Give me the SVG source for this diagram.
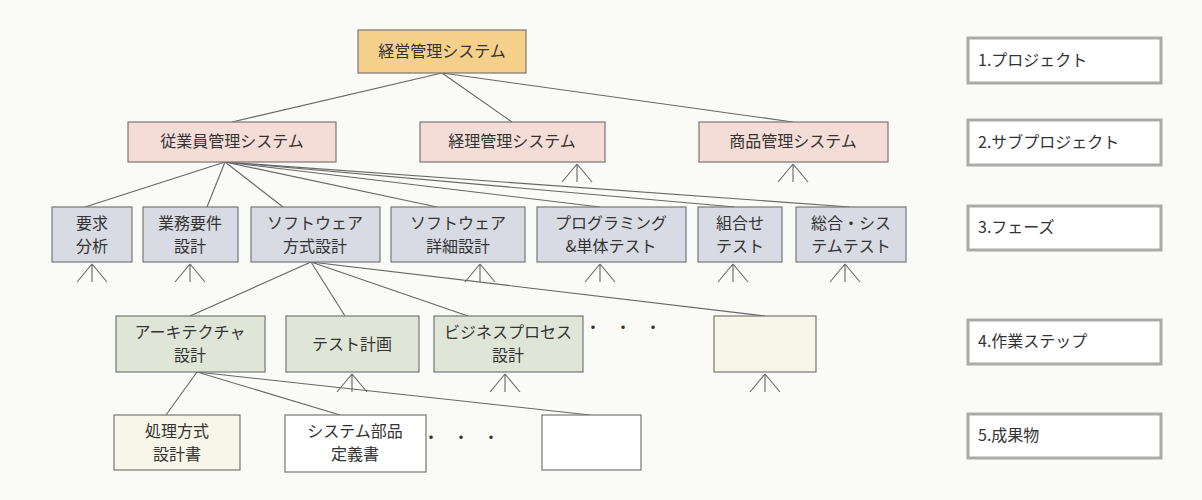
<svg xmlns="http://www.w3.org/2000/svg" width="1202" height="500" viewBox="0 0 1202 500">
<style>
text{font-family:"Noto Sans CJK JP","Noto Sans",sans-serif;font-size:16px;fill:#333;text-anchor:middle}
.t2{font-size:15px}
.b{stroke:#777;stroke-width:1.2}
.p{fill:#f5d08a}.s{fill:#f3ddd6}.f{fill:#d9dbe4}.w{fill:#dfe6d8}.d{fill:#f7f6e8}.e{fill:#fff}
.c line{stroke:#666;stroke-width:1.1;fill:none}
.l rect{fill:#fff;stroke:#aaa;stroke-width:3}
.l text{text-anchor:start}
</style>
<defs><path id="m" d="M0 0V18M0 0L-15 18M0 0L15 18" stroke="#666" stroke-width="1.1" fill="none"/></defs>
<rect width="1202" height="500" fill="#fafaf7"/>
<g class="c">
<line x1="442" y1="73" x2="232" y2="122"/><line x1="442" y1="73" x2="512" y2="122"/><line x1="442" y1="73" x2="793" y2="122"/>
<line x1="225" y1="162" x2="85" y2="207"/><line x1="225" y1="162" x2="207" y2="207"/><line x1="225" y1="162" x2="283" y2="207"/><line x1="225" y1="162" x2="437" y2="207"/><line x1="225" y1="162" x2="600" y2="207"/><line x1="225" y1="162" x2="735" y2="207"/><line x1="225" y1="162" x2="850" y2="207"/>
<line x1="311" y1="262" x2="190" y2="316"/><line x1="311" y1="262" x2="345" y2="316"/><line x1="311" y1="262" x2="468" y2="316"/><line x1="311" y1="262" x2="765" y2="316"/>
<line x1="197" y1="372" x2="166" y2="415"/><line x1="197" y1="372" x2="340" y2="415"/><line x1="197" y1="372" x2="590" y2="415"/>
<use href="#m" x="577" y="164"/><use href="#m" x="793" y="164"/>
<use href="#m" x="92" y="264"/><use href="#m" x="190" y="264"/><use href="#m" x="480" y="264"/><use href="#m" x="600" y="264"/><use href="#m" x="733" y="264"/><use href="#m" x="845" y="264"/>
<use href="#m" x="352" y="374"/><use href="#m" x="505" y="374"/><use href="#m" x="765" y="374"/>
</g>
<g id="n0"><rect class="b p" x="358" y="30" width="168" height="43"/><text x="442" y="57">経営管理システム</text></g>
<g id="n1"><rect class="b s" x="128" y="122" width="208" height="40"/><text x="232" y="147">従業員管理システム</text></g>
<g id="n2"><rect class="b s" x="420" y="122" width="185" height="40"/><text x="512" y="147">経理管理システム</text></g>
<g id="n3"><rect class="b s" x="699" y="122" width="189" height="40"/><text x="793" y="147">商品管理システム</text></g>
<g class="t2">
<g id="n4"><rect class="b f" x="52" y="207" width="80" height="55"/><text x="92" y="229">要求</text><text x="92" y="252">分析</text></g>
<g id="n5"><rect class="b f" x="143" y="207" width="95" height="55"/><text x="190" y="229">業務要件</text><text x="190" y="252">設計</text></g>
<g id="n6"><rect class="b f" x="251" y="207" width="129" height="55"/><text x="315" y="229">ソフトウェア</text><text x="315" y="252">方式設計</text></g>
<g id="n7"><rect class="b f" x="391" y="207" width="134" height="55"/><text x="458" y="229">ソフトウェア</text><text x="458" y="252">詳細設計</text></g>
<g id="n8"><rect class="b f" x="537" y="207" width="149" height="55"/><text x="611" y="229">プログラミング</text><text x="611" y="252">&amp;単体テスト</text></g>
<g id="n9"><rect class="b f" x="698" y="207" width="84" height="55"/><text x="740" y="229">組合せ</text><text x="740" y="252">テスト</text></g>
<g id="n10"><rect class="b f" x="796" y="207" width="110" height="55"/><text x="851" y="229">総合・シス</text><text x="851" y="252">テムテスト</text></g>
<g id="n11"><rect class="b w" x="116" y="316" width="149" height="56"/><text x="190" y="338">アーキテクチャ</text><text x="190" y="361">設計</text></g>
<g id="n12"><rect class="b w" x="286" y="316" width="133" height="56"/><text x="352" y="350">テスト計画</text></g>
<g id="n13"><rect class="b w" x="434" y="316" width="149" height="56"/><text x="508" y="338">ビジネスプロセス</text><text x="508" y="361">設計</text></g>
<g id="n15"><rect class="b d" x="114" y="415" width="126" height="55"/><text x="177" y="437">処理方式</text><text x="177" y="460">設計書</text></g>
<g id="n16"><rect class="b e" x="285" y="415" width="141" height="57"/><text x="355" y="437">システム部品</text><text x="355" y="460">定義書</text></g>
</g>
<g id="n14"><rect class="b d" x="714" y="316" width="102" height="56"/></g>
<text x="630" y="333" style="letter-spacing:14px">・・・</text>
<text x="468" y="443" style="letter-spacing:14px">・・・</text>
<g id="n17"><rect class="b e" x="542" y="415" width="99" height="55"/></g>
<g class="l">
<g id="l1"><rect x="968" y="38" width="193" height="45"/><text x="978" y="66">1.プロジェクト</text></g>
<g id="l2"><rect x="968" y="120" width="193" height="45"/><text x="978" y="148">2.サブプロジェクト</text></g>
<g id="l3"><rect x="968" y="206" width="193" height="44"/><text x="978" y="233">3.フェーズ</text></g>
<g id="l4"><rect x="968" y="320" width="193" height="44"/><text x="978" y="347">4.作業ステップ</text></g>
<g id="l5"><rect x="968" y="414" width="193" height="44"/><text x="978" y="441">5.成果物</text></g>
</g>
</svg>
